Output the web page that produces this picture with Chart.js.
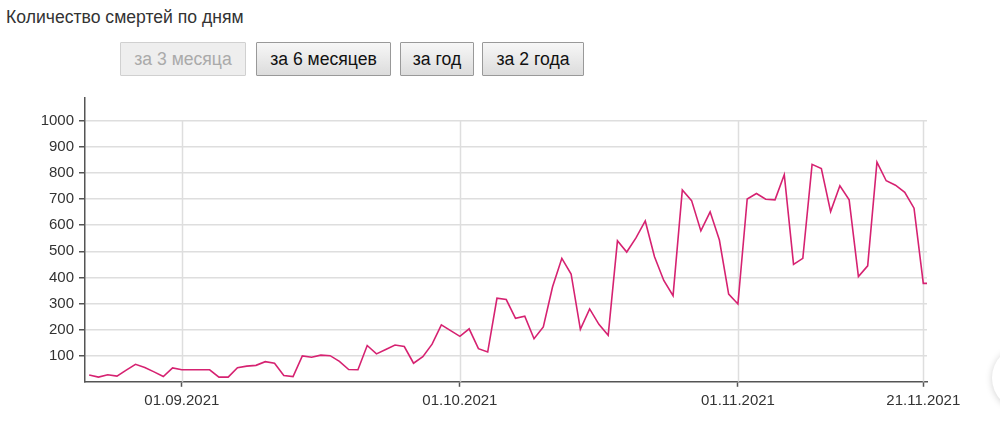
<!DOCTYPE html>
<html lang="ru">
<head>
<meta charset="utf-8">
<title>Количество смертей по дням</title>
<script src="https://cdn.jsdelivr.net/npm/chart.js@4"></script>
<style>
  html, body { margin: 0; padding: 0; background: #fff; }
  body { width: 1000px; height: 435px; position: relative; overflow: hidden; font-family: 'Liberation Sans', Arial, sans-serif; }
  .title { position: absolute; left: 6px; top: 7px; font-size: 17.6px; line-height: 20px; color: #333; }
  .btn {
    position: absolute; top: 42px; height: 34px; box-sizing: border-box;
    font-family: inherit; font-size: 17.6px; line-height: 32px; text-align: center; padding: 0;
    color: #111; background: linear-gradient(#f7f7f7, #dcdcdc); border: 1px solid #999; border-radius: 1px;
  }
  .btn[disabled] { color: #aaa; background: #eeeeee; border-color: #d0d0d0; }
  .chart-box { position: absolute; left: 0; top: 90px; width: 1000px; height: 345px; }
  .float-btn { position: absolute; left: 992px; top: 346px; width: 64px; height: 64px; border-radius: 50%; background: #fff; box-shadow: 0 1px 7px rgba(0,0,0,0.18); }
</style>
</head>
<body>
<div class="title">Количество смертей по дням</div>
<button class="btn" style="left:120px;width:126px;" disabled>за 3 месяца</button>
<button class="btn" style="left:256px;width:135px;">за 6 месяцев</button>
<button class="btn" style="left:400px;width:74px;">за год</button>
<button class="btn" style="left:482px;width:102px;">за 2 года</button>
<div class="chart-box"><canvas id="deathsChart"></canvas></div>
<div class="float-btn"></div>

<script>
// daily deaths, one value per day starting 22.08.2021 (index 0)
const deaths = [
  26, 18, 27, 22, 45, 67, 55, 38, 20, 53,
  46, 46, 46, 46, 18, 18, 54, 60, 63, 77,
  71, 24, 20, 99, 94, 102, 100, 78, 47, 46,
  139, 107, 124, 141, 135, 71, 96, 144, 218, 196,
  174, 203, 127, 114, 320, 315, 243, 251, 165, 210,
  364, 473, 413, 201, 279, 220, 178, 540, 497, 551,
  616, 479, 388, 330, 735, 694, 578, 651, 543, 336,
  298, 700, 721, 699, 697, 793, 450, 473, 833, 817,
  652, 751, 697, 403, 444, 841, 770, 753, 726, 665,
  377, 377
];

// labelled dates on the x axis and their day index
const tickLabels = ['01.09.2021', '01.10.2021', '01.11.2021', '21.11.2021'];
const tickIndex  = [10, 40, 70, 90];

const yTicks = [100, 200, 300, 400, 500, 600, 700, 800, 900, 1000];

const LINE_CLR = '#d62271';
const AXIS_CLR = '#555';
const GRID_CLR = '#dedede';
const FONT     = { family: "'Liberation Sans', Arial, sans-serif", size: 15 };

// vertical date gridlines run from the top tick down, not from the chart top
const dateGrid = {
  id: 'dateGrid',
  beforeDatasetsDraw(chart) {
    const { ctx, chartArea, scales: { x, y } } = chart;
    const top = y.getPixelForValue(yTicks[yTicks.length - 1]);
    ctx.save();
    ctx.strokeStyle = GRID_CLR;
    ctx.lineWidth = 1.5;
    tickIndex.forEach(i => {
      const px = Math.round(x.getPixelForValue(i)) + 0.5;
      ctx.beginPath();
      ctx.moveTo(px, top);
      ctx.lineTo(px, chartArea.bottom);
      ctx.stroke();
    });
    ctx.restore();
  }
};

// fixed axis sizes so the plot area lands where the original's does
const noPad = s => { s.paddingTop = 0; s.paddingBottom = 0; s.paddingLeft = 0; s.paddingRight = 0; };

new Chart(document.getElementById('deathsChart'), {
  type: 'line',
  data: {
    datasets: [{
      data: deaths.map((v, i) => ({ x: i, y: v })),
      borderColor: LINE_CLR,
      borderWidth: 1.6,
      pointRadius: 0,
      tension: 0,
      fill: false,
    }]
  },
  options: {
    responsive: true,
    maintainAspectRatio: false,
    animation: false,
    layout: { padding: { top: 8, right: 73, left: 0, bottom: 0 } },
    plugins: { legend: { display: false }, tooltip: { enabled: false } },
    scales: {
      x: {
        type: 'linear',
        min: -0.45,
        max: 90.4,
        afterBuildTicks: s => { s.ticks = tickIndex.map(v => ({ value: v })); },
        afterFit: s => { s.height = 53.2; noPad(s); },
        ticks: {
          autoSkip: false, maxRotation: 0, padding: 5,
          color: '#333', font: FONT,
          callback: v => tickLabels[tickIndex.indexOf(v)] ?? '',
        },
        grid: { drawOnChartArea: false, drawTicks: true, tickLength: 5, tickColor: AXIS_CLR, tickWidth: 1.5 },
        border: { display: true, color: AXIS_CLR, width: 1.5 },
      },
      y: {
        min: 0,
        max: 1087,
        afterBuildTicks: s => { s.ticks = yTicks.map(v => ({ value: v })); },
        afterFit: s => { s.width = 85; noPad(s); },
        ticks: { padding: 5, color: '#333', font: FONT, callback: v => String(v) },
        grid: { color: GRID_CLR, lineWidth: 1.5, tickLength: 6, tickColor: AXIS_CLR, tickWidth: 1.5 },
        border: { display: true, color: AXIS_CLR, width: 1.5 },
      }
    }
  },
  plugins: [dateGrid]
});
</script>
</body>
</html>
